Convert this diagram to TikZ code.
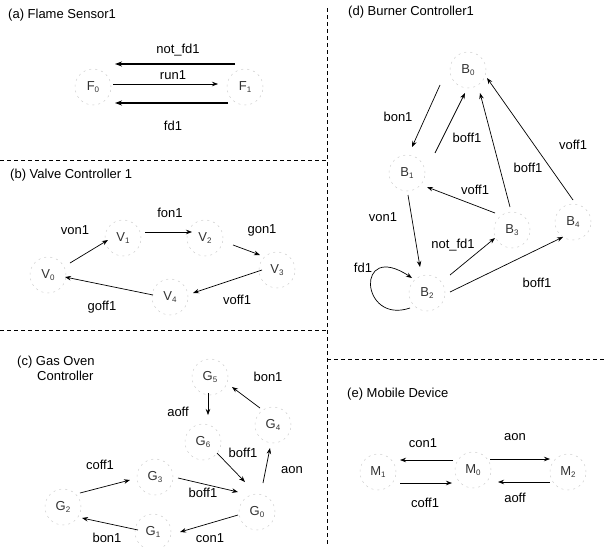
\documentclass[tikz,border=0pt]{standalone}
\usepackage{fontspec}
\setmainfont{Liberation Sans}
\usetikzlibrary{arrows.meta,calc}
\tikzset{
  st/.style={circle,draw=gray!40,dashed,dash pattern=on 2pt off 4pt,line width=0.5pt,minimum size=36pt,inner sep=0pt,text=black!80,font=\fontsize{13}{15}\selectfont},
  lbl/.style={font=\fontsize{13}{15}\selectfont,inner sep=0pt},
  ttl/.style={font=\fontsize{13}{15}\selectfont,inner sep=0pt,anchor=west},
  arr/.style={line width=0.7pt,-{Stealth[length=6pt,width=4.5pt]}},
  arrb/.style={line width=1.1pt,-{Stealth[length=7pt,width=5pt]}},
  sep/.style={line width=1pt,dash pattern=on 4pt off 3pt}
}
\newcommand{\sub}[2]{#1\raisebox{-2.5pt}{\fontsize{8}{9}\selectfont #2}}
\begin{document}
\begin{tikzpicture}[x=1pt,y=-1pt]
\useasboundingbox (0,0) rectangle (604,546);
% separators
\coordinate (s1a) at (0,160); \coordinate (s1b) at (327,160);
\coordinate (s2a) at (0,330); \coordinate (s2b) at (327,330);
\coordinate (s3a) at (327,8); \coordinate (s3b) at (327,546);
\coordinate (s4a) at (327,359); \coordinate (s4b) at (604,359);
\draw[sep] (s1a) -- (s1b);
\draw[sep] (s2a) -- (s2b);
\draw[sep] (s3a) -- (s3b);
\draw[sep] (s4a) -- (s4b);
% titles
\node[ttl] (ta) at (8,15) {(a) Flame Sensor1};
\node[ttl] (tb) at (10,175) {(b) Valve Controller 1};
\node[ttl,align=left] (tc) at (17,368) {(c) Gas Oven\\\hspace*{20pt}Controller};
\node[ttl] (td) at (348,12) {(d) Burner Controller1};
\node[ttl] (te) at (347,394) {(e) Mobile Device};
% (a)
\node[st] (F0) at (93,87) {\sub{F}{0}};
\node[st] (F1) at (245,87) {\sub{F}{1}};
\draw[arrb] ($(F1)+(-10,-23)$) -- ($(F0)+(22,-23)$);
\draw[arr] ($(F0)+(20,-3)$) -- ($(F1)+(-27,-3)$);
\draw[arrb] ($(F1)+(-17,16)$) -- ($(F0)+(22,16)$);
\node[lbl] (la1) at (178,50) {not\_fd1};
\node[lbl] (la2) at (173,75) {run1};
\node[lbl] (la3) at (173,126) {fd1};
% (b)
\node[st] (V0) at (48,275) {\sub{V}{0}};
\node[st] (V1) at (123,238) {\sub{V}{1}};
\node[st] (V2) at (205,238) {\sub{V}{2}};
\node[st] (V3) at (277,270) {\sub{V}{3}};
\node[st] (V4) at (170,297) {\sub{V}{4}};
\draw[arr] ($(V0)+(22,-12)$) -- ($(V1)+(-15,2)$);
\draw[arr] ($(V1)+(22,-6)$) -- ($(V2)+(-13,-6)$);
\draw[arr] ($(V2)+(28,7)$) -- ($(V3)+(-17,-15)$);
\draw[arr] ($(V3)+(-15,0)$) -- ($(V4)+(23,-4)$);
\draw[arr] ($(V4)+(-17,-2)$) -- ($(V0)+(17,2)$);
\node[lbl] (lb1) at (75,230) {von1};
\node[lbl] (lb2) at (170,213) {fon1};
\node[lbl] (lb3) at (262,230) {gon1};
\node[lbl] (lb4) at (237,300) {voff1};
\node[lbl] (lb5) at (102,307) {goff1};
% (c)
\node[st] (G5) at (210,377) {\sub{G}{5}};
\node[st] (G4) at (273,425) {\sub{G}{4}};
\node[st] (G6) at (203,442) {\sub{G}{6}};
\node[st] (G3) at (155,477) {\sub{G}{3}};
\node[st] (G2) at (63,507) {\sub{G}{2}};
\node[st] (G1) at (153,532) {\sub{G}{1}};
\node[st] (G0) at (257,512) {\sub{G}{0}};
\draw[arr] ($(G4)+(-13,-17)$) -- ($(G5)+(22,10)$);
\draw[arr] ($(G5)+(-2,16)$) -- ($(G6)+(5,-27)$);
\draw[arr] ($(G6)+(14,11)$) -- ($(G0)+(-12,-30)$);
\draw[arr] ($(G0)+(6,-29)$) -- ($(G4)+(-3,23)$);
\draw[arr] ($(G2)+(17,-14)$) -- ($(G3)+(-25,3)$);
\draw[arr] ($(G3)+(23,1)$) -- ($(G0)+(-19,-20)$);
\draw[arr] ($(G1)+(-15,-2)$) -- ($(G2)+(19,11)$);
\draw[arr] ($(G0)+(-19,3)$) -- ($(G1)+(27,0)$);
\node[lbl] (lc1) at (268,377) {bon1};
\node[lbl] (lc2) at (178,412) {aoff};
\node[lbl] (lc3) at (243,453) {boff1};
\node[lbl] (lc4) at (292,470) {aon};
\node[lbl] (lc5) at (100,465) {coff1};
\node[lbl] (lc6) at (203,493) {boff1};
\node[lbl] (lc7) at (107,538) {bon1};
\node[lbl] (lc8) at (210,538) {con1};
% (d)
\node[st] (B0) at (468,70) {\sub{B}{0}};
\node[st] (B1) at (407,173) {\sub{B}{1}};
\node[st] (B3) at (512,230) {\sub{B}{3}};
\node[st] (B4) at (573,222) {\sub{B}{4}};
\node[st] (B2) at (427,293) {\sub{B}{2}};
\draw[arr] ($(B0)+(-28,15)$) -- ($(B1)+(5,-26)$);
\draw[arr] ($(B1)+(28,-20)$) -- ($(B0)+(-3,23)$);
\draw[arr] ($(B3)+(-2,-23)$) -- ($(B0)+(12,23)$);
\draw[arr] ($(B4)+(0,-22)$) -- ($(B0)+(19,8)$);
\draw[arr] ($(B3)+(-17,-17)$) -- ($(B1)+(20,14)$);
\draw[arr] ($(B1)+(1,22)$) -- ($(B2)+(-7,-26)$);
\draw[arr] ($(B2)+(23,-18)$) -- ($(B3)+(-17,8)$);
\draw[arr] ($(B2)+(23,-1)$) -- ($(B4)+(-10,15)$);
\draw[arr] ($(B2)+(-17,15)$) .. controls ($(B2)+(-67,32)$) and ($(B2)+(-72,-53)$) .. ($(B2)+(-15,-15)$);
\node[lbl] (ld1) at (398,117) {bon1};
\node[lbl] (ld2) at (467,138) {boff1};
\node[lbl] (ld3) at (528,168) {boff1};
\node[lbl] (ld4) at (573,145) {voff1};
\node[lbl] (ld5) at (475,190) {voff1};
\node[lbl] (ld6) at (383,217) {von1};
\node[lbl] (ld7) at (453,245) {not\_fd1};
\node[lbl] (ld8) at (363,268) {fd1};
\node[lbl] (ld9) at (537,283) {boff1};
% (e)
\node[st] (M1) at (378,472) {\sub{M}{1}};
\node[st] (M0) at (473,470) {\sub{M}{0}};
\node[st] (M2) at (568,472) {\sub{M}{2}};
\draw[arr] ($(M0)+(-20,-10)$) -- ($(M1)+(22,-12)$);
\draw[arr] ($(M1)+(22,11)$) -- ($(M0)+(-21,13)$);
\draw[arr] ($(M0)+(17,-11)$) -- ($(M2)+(-18,-13)$);
\draw[arr] ($(M2)+(-18,10)$) -- ($(M0)+(25,12)$);
\node[lbl] (le1) at (423,443) {con1};
\node[lbl] (le2) at (515,437) {aon};
\node[lbl] (le3) at (425,503) {coff1};
\node[lbl] (le4) at (515,498) {aoff};
\end{tikzpicture}
\end{document}
